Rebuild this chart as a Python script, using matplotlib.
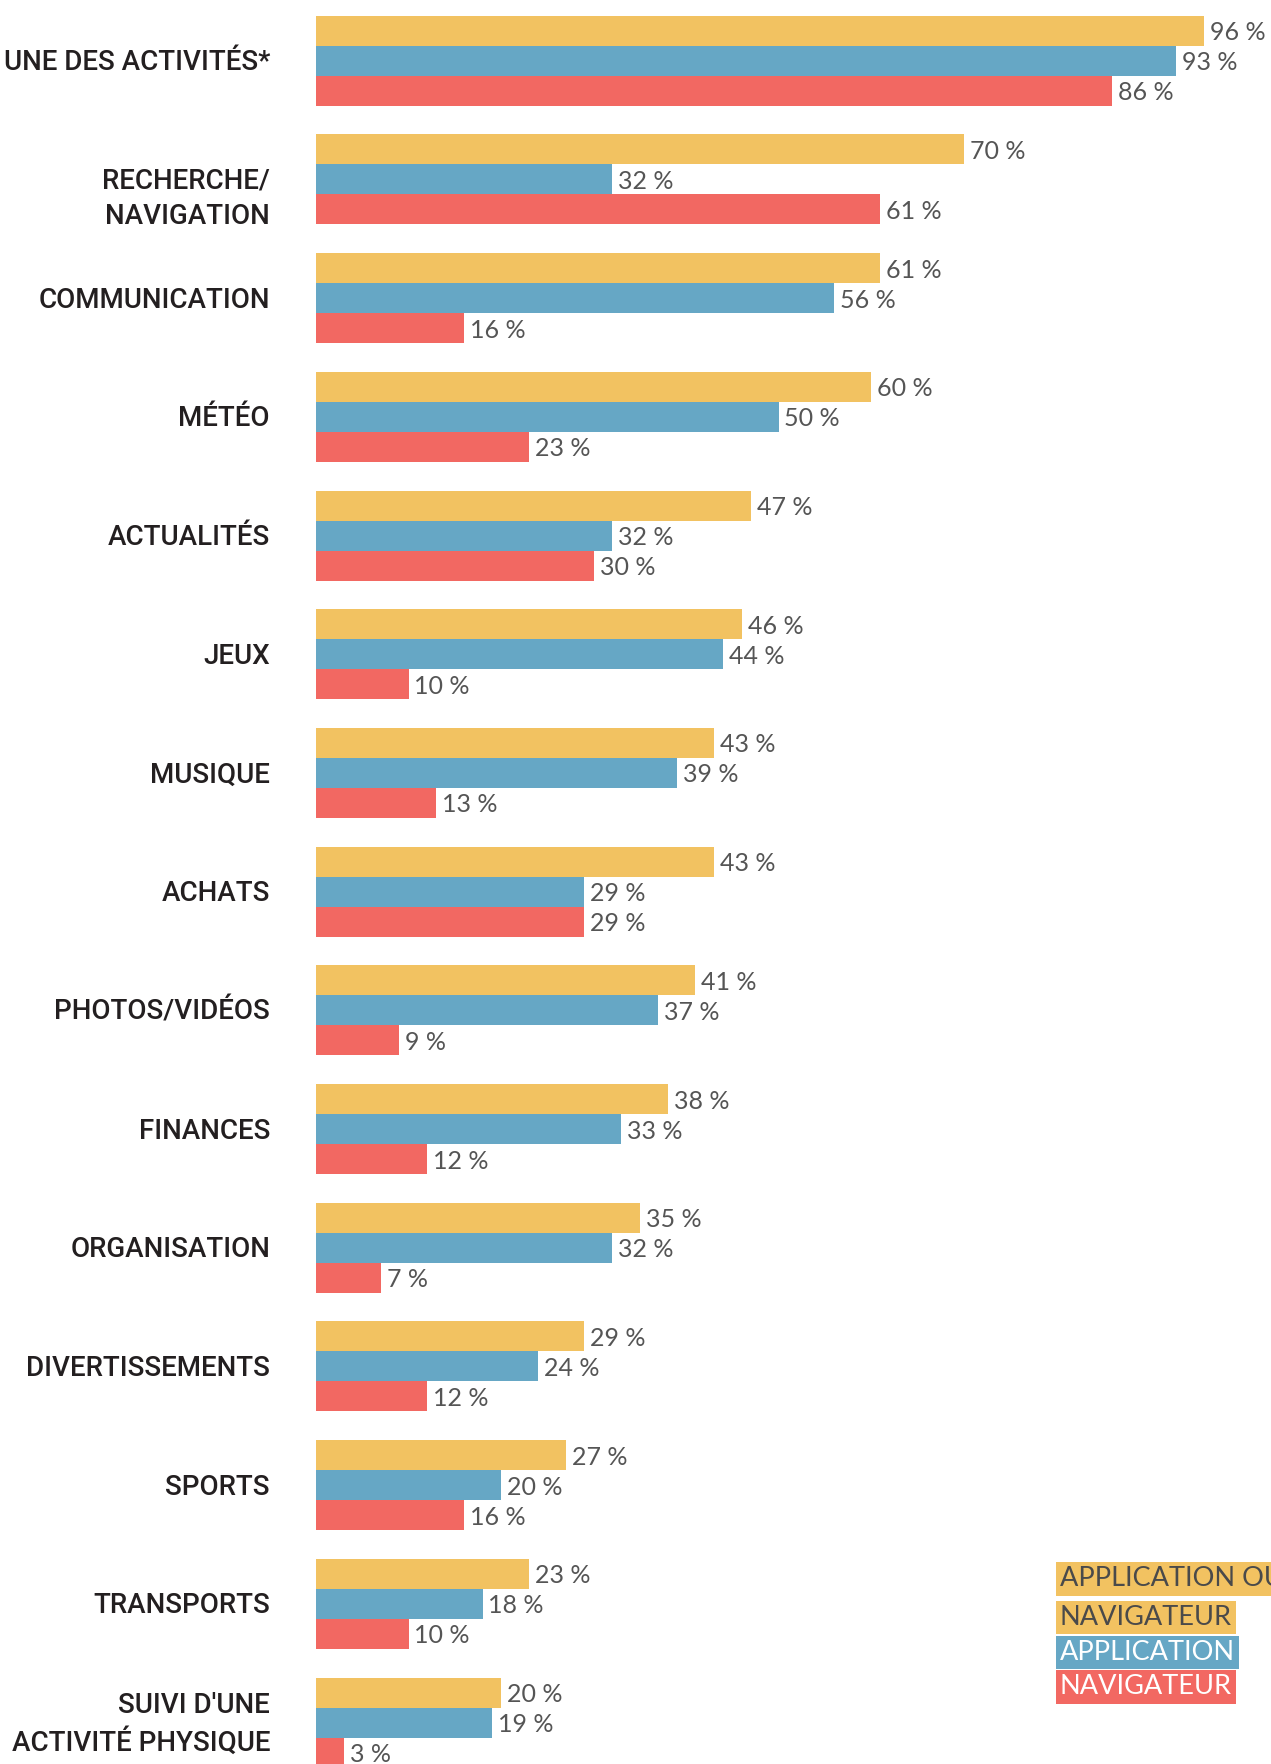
import matplotlib
matplotlib.use("Agg")
import matplotlib.pyplot as plt
from matplotlib.transforms import offset_copy

categories = [
    "UNE DES ACTIVITÉS*", "RECHERCHE/\nNAVIGATION", "COMMUNICATION", "MÉTÉO",
    "ACTUALITÉS", "JEUX", "MUSIQUE", "ACHATS", "PHOTOS/VIDÉOS", "FINANCES",
    "ORGANISATION", "DIVERTISSEMENTS", "SPORTS", "TRANSPORTS",
    "SUIVI D'UNE\nACTIVITÉ PHYSIQUE",
]
app_ou_nav = [96, 70, 61, 60, 47, 46, 43, 43, 41, 38, 35, 29, 27, 23, 20]
application = [93, 32, 56, 50, 32, 44, 39, 29, 37, 33, 32, 24, 20, 18, 19]
navigateur = [86, 61, 16, 23, 30, 10, 13, 29, 9, 12, 7, 12, 16, 10, 3]
legend_labels = ["APPLICATION OU\nNAVIGATEUR", "APPLICATION", "NAVIGATEUR"]

colors = ["#F2C261", "#66A7C5", "#F26862"]
series = [app_ou_nav, application, navigateur]

W, H = 1271, 1764
plt.rcParams['font.family'] = ['Lato', 'DejaVu Sans']
fig = plt.figure(figsize=(W / 100, H / 100), dpi=100)
left_px = 316
px_per_pct = 9.25
pitch = 118.7
c0 = 60.7
ax = fig.add_axes([left_px / W, 0, (W - left_px) / W, 1])
ax.set_xlim(0, (W - left_px) / px_per_pct)
ax.set_ylim((H - c0) / pitch, -c0 / pitch)
ax.axis("off")

h = 30.0 / pitch
n = len(categories)
for k, (vals, col) in enumerate(zip(series, colors)):
    ys = [i + (k - 1) * h for i in range(n)]
    ax.barh(ys, vals, height=h, color=col, edgecolor="none")
    tr = offset_copy(ax.transData, fig=fig, x=6, y=-2, units="dots")
    for y, v in zip(ys, vals):
        ax.text(v, y, f"{v} %", transform=tr, ha="left", va="center",
                fontsize=18, color="#555555", clip_on=False)

lab_tr = offset_copy(ax.transData, fig=fig, x=-46, y=-2, units="dots")
for i, lab in enumerate(categories):
    dy = 17.0 / pitch if i == 1 else 0
    ax.text(0, i + dy, lab, transform=lab_tr, ha="right", va="center",
            fontsize=20, color="#231F20", fontweight="medium",
            family=["Roboto", "DejaVu Sans"],
            linespacing=1.4, clip_on=False)

# legend
leg_rows = [("APPLICATION OU", colors[0], "#4A4A4A", 1579),
            ("NAVIGATEUR", colors[0], "#4A4A4A", 1617.5),
            (legend_labels[1], colors[1], "white", 1652.5),
            (legend_labels[2], colors[2], "white", 1687)]
for txt, fc, tc, ypx in leg_rows:
    fig.text(1060 / W, 1 - ypx / H, txt, ha="left", va="center",
             fontsize=19.5, color=tc,
             bbox=dict(boxstyle="square,pad=0.15", fc=fc, ec="none"))

fig.savefig("out.png", dpi=100)
